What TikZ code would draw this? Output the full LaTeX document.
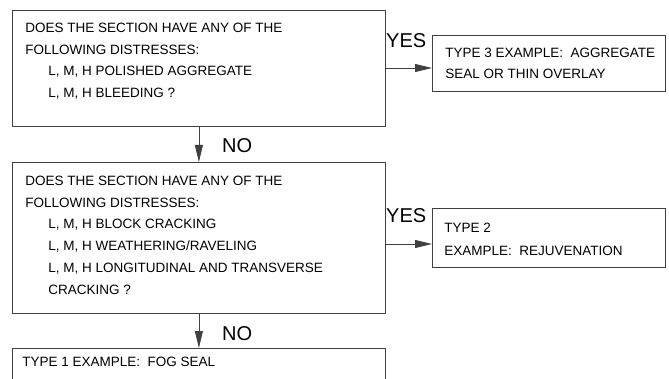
\documentclass[tikz,border=0pt]{standalone}
\usepackage{fontspec}
\setmainfont{Liberation Sans}
\usetikzlibrary{arrows.meta,positioning}

% Cajas, flechas y rotulos
\tikzset{
  caja/.style={draw=black!75, line width=0.8pt, anchor=north west, inner sep=0pt,
    text=black, font=\fontsize{13.5}{21.8}\selectfont},
  flecha/.style={draw=black!75, line width=0.8pt, -{Triangle[length=17pt,width=8pt]}},
  rotulo/.style={text=black, font=\fontsize{20}{24}\selectfont, inner sep=0pt, anchor=base west}
}
% alto, ancho, margen izquierdo, primera linea, texto
\newcommand{\bloque}[5]{\parbox[c][#1][t]{#2}{\raggedright\leftskip=#3\relax\rule{0pt}{#4}#5}}
\newcommand{\sangria}{\hspace*{23pt}}

\begin{document}
\begin{tikzpicture}[x=1pt,y=-1pt]
    \useasboundingbox (0,0) rectangle (669,379);
    \clip (0,0) rectangle (669,379);

    % Preguntas
    \node[caja] (q1) at (12,10) {\bloque{116pt}{373pt}{13pt}{22pt}{%
        DOES THE SECTION HAVE ANY OF THE\\
        FOLLOWING DISTRESSES:\\
        \sangria L, M, H POLISHED AGGREGATE\\
        \sangria L, M, H BLEEDING ?}};
    \node[caja] (q2) at (12,162) {\bloque{151pt}{373pt}{13pt}{23pt}{%
        DOES THE SECTION HAVE ANY OF THE\\
        FOLLOWING DISTRESSES:\\
        \sangria L, M, H BLOCK CRACKING\\
        \sangria L, M, H WEATHERING/RAVELING\\
        \sangria L, M, H LONGITUDINAL AND TRANSVERSE\\
        \sangria CRACKING ?}};

    % Tratamientos
    \node[caja, font=\fontsize{13.5}{21.5}\selectfont] (t3) at (432,35) {\bloque{56pt}{233pt}{13pt}{22pt}{%
        TYPE 3 EXAMPLE:\ \ AGGREGATE\\
        SEAL OR THIN OVERLAY}};
    \node[caja, font=\fontsize{13.5}{23}\selectfont] (t2) at (432,208) {\bloque{59pt}{233pt}{12pt}{24pt}{%
        TYPE 2\\
        EXAMPLE:\ \ REJUVENATION}};
    \node[caja] (t1) at (12,348) {\bloque{60pt}{373pt}{10pt}{18pt}{%
        TYPE 1 EXAMPLE:\ \ FOG SEAL}};

    % Flechas
    \coordinate (s1) at ([yshift=-58pt]q1.north east);
    \coordinate (s2) at ([yshift=-82pt]q2.north east);
    \draw[flecha] (s1) -- (s1 -| t3.west);
    \draw[flecha] (s2) -- (s2 -| t2.west);
    \draw[flecha] (q1.south) -- (q2.north);
    \draw[flecha] (q2.south) -- (t1.north);

    % Respuestas
    \node[rotulo] (si1) at (386,48) {YES};
    \node[rotulo] (si2) at (386,223) {YES};
    \node[rotulo] (no1) at (222,153) {NO};
    \node[rotulo] (no2) at (222,340) {NO};
\end{tikzpicture}
\end{document}
